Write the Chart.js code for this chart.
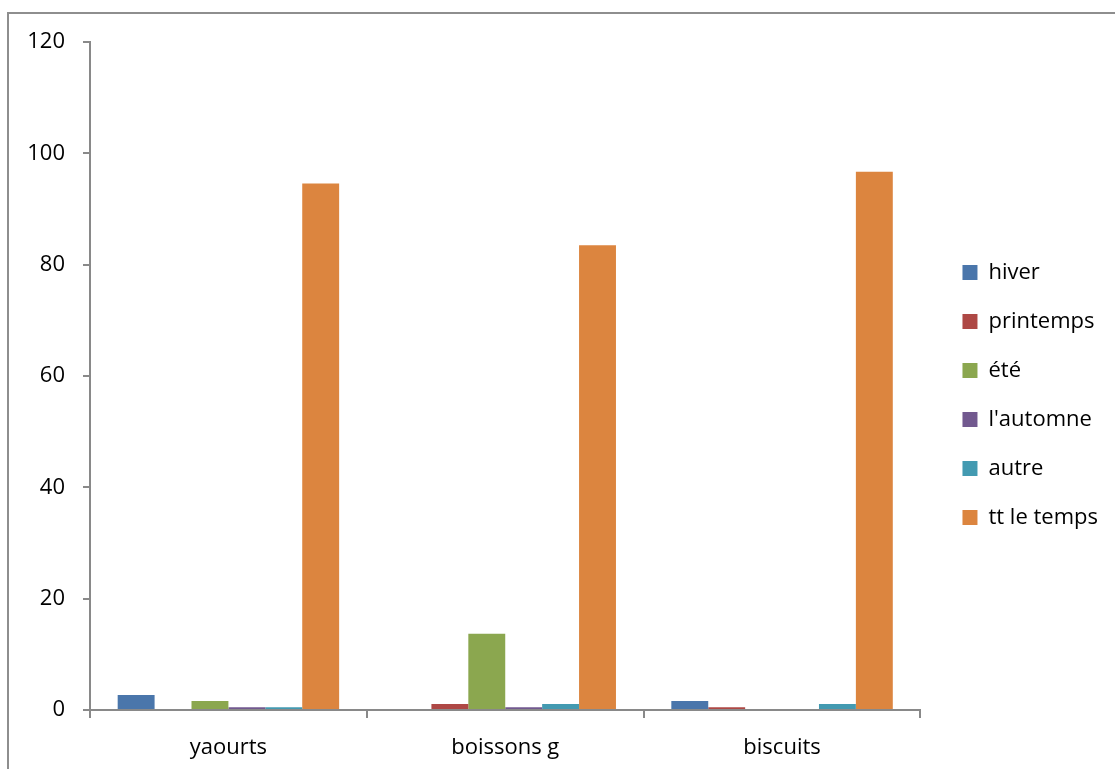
<!DOCTYPE html>
<html>
<head>
<meta charset="utf-8">
<script src="https://cdn.jsdelivr.net/npm/chart.js@4.4.1/dist/chart.umd.min.js"></script>
<style>
  body { margin: 0; background: #fff; overflow: hidden; }
  #frame { position: absolute; left: 7px; top: 12px; width: 1120px; height: 770px; border: 2px solid #8e8e8e; }
  #wrap { position: absolute; left: 0; top: 0; width: 1106px; height: 762px; }
</style>
</head>
<body>
<div id="frame"><div id="wrap"><canvas id="chart"></canvas></div></div>
<script>
var produits = ['yaourts', 'boissons g', 'biscuits'];
var saisons = ['hiver', 'printemps', 'été', "l'automne", 'autre', 'tt le temps'];
var hiver = [2.7, 0, 1.6];
var printemps = [0, 1.1, 0.5];
var ete = [1.6, 13.7, 0];
var automne = [0.5, 0.5, 0];
var autre = [0.5, 1.1, 1.1];
var toutLeTemps = [94.6, 83.5, 96.7];
var couleurs = ['#4A76AB', '#AE4845', '#8BA74F', '#72598F', '#439AB1', '#DC853F'];

var series = [hiver, printemps, ete, automne, autre, toutLeTemps];
var font = "'Open Sans', 'Liberation Sans', sans-serif";

// place la legende un peu plus loin du graphique, centree sur toute la hauteur
var legendShift = {
    id: 'legendShift',
    afterLayout: function(chart){
        var lg = chart.legend;
        lg.left = chart.chartArea.right + 15;
        lg.right = chart.width;
        lg.width = lg.right - lg.left;
        lg.top = 0;
        lg.bottom = chart.height;
        lg.height = chart.height;
    }
};

var ctx = document.getElementById('chart').getContext('2d');

var chart = new Chart(ctx, {
    type: 'bar',
    data: {
        labels: produits,
        datasets: series.map(function(values, i){
            return {
                label: saisons[i],
                data: values,
                backgroundColor: couleurs[i],
                borderWidth: 0,
                categoryPercentage: 0.8,
                barPercentage: 1.0
            };
        })
    },
    options: {
        responsive: true,
        maintainAspectRatio: false,
        animation: false,
        layout: { padding: { top: 28, left: 0, right: 22, bottom: 0 } },
        plugins: {
            tooltip: { enabled: false },
            legend: {
                position: 'right',
                labels: {
                    boxWidth: 15,
                    boxHeight: 15,
                    padding: 27,
                    color: '#000',
                    font: { family: font, size: 22 }
                }
            }
        },
        scales: {
            x: {
                grid: { display: true, drawOnChartArea: false, offset: true, tickLength: 8, color: '#898989', lineWidth: 2 },
                border: { display: true, color: '#898989', width: 2 },
                ticks: { color: '#000', padding: 17, font: { family: font, size: 22 } },
                afterFit: function(scale){ scale.height = 66; }
            },
            y: {
                min: 0,
                max: 120,
                grid: { display: true, drawOnChartArea: false, tickLength: 7, color: '#898989', lineWidth: 2 },
                border: { display: true, color: '#898989', width: 2 },
                ticks: { stepSize: 20, color: '#000', padding: 18, font: { family: font, size: 22 } },
                afterFit: function(scale){
                    scale.width = 81;
                    scale.paddingTop = 0;
                    scale.paddingBottom = 0;
                }
            }
        }
    },
    plugins: [legendShift]
});
</script>
</body>
</html>
